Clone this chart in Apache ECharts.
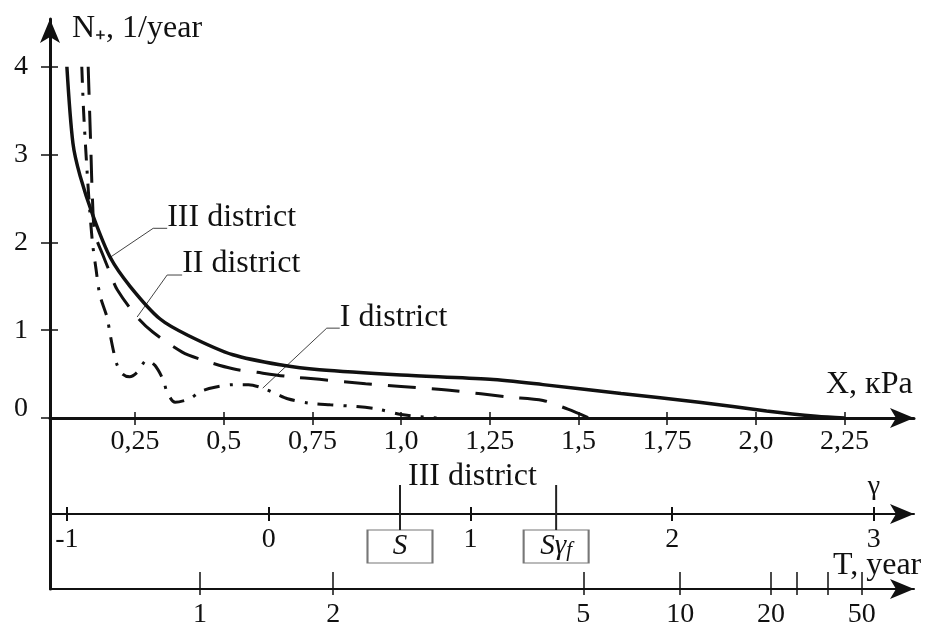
<!DOCTYPE html>
<html>
<head>
<meta charset="utf-8">
<script src="https://cdn.jsdelivr.net/npm/echarts@6/dist/echarts.min.js"></script>
<style>
  html, body { margin: 0; padding: 0; background: #fff; }
  #chart { width: 928px; height: 632px; }
</style>
</head>
<body>
<div id="chart"></div>
<script>
// Exceedance frequency N+ of the snow load X for three districts,
// with the auxiliary gamma scale and the return-period scale below.

// Load axis (X, kPa)
const loadTicks = [0.25, 0.5, 0.75, 1.0, 1.25, 1.5, 1.75, 2.0, 2.25];
const loadTickLabels = ['0,25', '0,5', '0,75', '1,0', '1,25', '1,5', '1,75', '2,0', '2,25'];
// Frequency axis (N+, 1/year)
const freqTicks = [0, 1, 2, 3, 4];
// Gamma scale
const gammaTicks = [-1, 0, 1, 2, 3];
// Return period scale (T, year) and where each period sits on the gamma scale
const periodTicks = [1, 2, 5, 10, 20, 30, 40, 50];
const periodTickLabels = ['1', '2', '5', '10', '20', '', '', '50'];
const periodOnGamma = [-0.34, 0.32, 1.56, 2.04, 2.49, 2.62, 2.77, 2.94];
// Markers on the gamma scale for the III district
const markerNames = ['S', 'Sγf'];
const markerGamma = [0.651, 1.425];

// Curves: [X, N+]
const districtIII = [
  [0.058, 4.0], [0.075, 3.13], [0.095, 2.76], [0.132, 2.3], [0.18, 1.83],
  [0.236, 1.5], [0.32, 1.13], [0.4, 0.94], [0.526, 0.72], [0.667, 0.6],
  [0.77, 0.55], [1.0, 0.49], [1.25, 0.44], [1.4, 0.38], [1.62, 0.28],
  [1.84, 0.18], [2.03, 0.08], [2.17, 0.02], [2.25, 0.0]
];
const districtII = [
  [0.118, 4.0], [0.122, 3.5], [0.126, 3.0], [0.13, 2.5], [0.137, 2.1],
  [0.16, 1.85], [0.18, 1.65], [0.2, 1.46], [0.256, 1.15], [0.3, 0.98],
  [0.383, 0.75], [0.433, 0.67], [0.526, 0.56], [0.594, 0.52], [0.687, 0.47],
  [0.77, 0.44], [0.9, 0.39], [1.0, 0.36], [1.15, 0.31], [1.3, 0.24],
  [1.4, 0.2], [1.47, 0.1], [1.53, 0.0]
];
const districtI = [
  [0.1, 4.0], [0.105, 3.5], [0.112, 3.0], [0.12, 2.5], [0.13, 2.0],
  [0.14, 1.7], [0.151, 1.4], [0.171, 1.15], [0.18, 0.95], [0.19, 0.75],
  [0.2, 0.6], [0.215, 0.5], [0.235, 0.47], [0.256, 0.52], [0.284, 0.66],
  [0.306, 0.6], [0.33, 0.43], [0.34, 0.3], [0.363, 0.18], [0.405, 0.22],
  [0.433, 0.3], [0.475, 0.35], [0.53, 0.38], [0.57, 0.38], [0.61, 0.34],
  [0.65, 0.27], [0.68, 0.22], [0.74, 0.17], [0.8, 0.15], [0.875, 0.13],
  [0.935, 0.1], [1.0, 0.04], [1.1, 0.0]
];

const SERIF = 'Liberation Serif';
const INK = '#111';
const GRID_LEFT = 50, GRID_WIDTH = 864;
const WORD_SIZE = 32, TICK_SIZE = 28;

const arrowLine = (w) => ({
  show: true, onZero: false,
  lineStyle: { color: INK, width: w },
  symbol: ['none', 'arrow'], symbolSize: [15, 24]
});
const noLine = { show: false, onZero: false };
const noSplit = { show: false };
const tickFont = { fontFamily: SERIF, fontSize: TICK_SIZE, color: INK };

const option = {
  backgroundColor: '#fff',
  animation: false,
  grid: [
    { left: GRID_LEFT, width: GRID_WIDTH, top: 19, height: 399 },   // main plot
    { left: GRID_LEFT, width: GRID_WIDTH, top: 418, height: 96 },   // gamma scale
    { left: GRID_LEFT, width: GRID_WIDTH, top: 418, height: 171 }   // return period scale
  ],
  xAxis: [
    { // X, kPa
      type: 'value', gridIndex: 0, position: 'bottom', min: 0.0104, max: 2.4456,
      axisLine: arrowLine(3), splitLine: noSplit,
      axisTick: { show: true, inside: false, length: 7, customValues: loadTicks, lineStyle: { color: INK, width: 1.5 } },
      axisLabel: Object.assign({ customValues: loadTicks, margin: 10,
        formatter: (v) => loadTickLabels[loadTicks.indexOf(v)] }, tickFont)
    },
    { // inner half of the load ticks
      type: 'value', gridIndex: 0, position: 'bottom', min: 0.0104, max: 2.4456,
      axisLine: noLine, splitLine: noSplit, axisLabel: { show: false },
      axisTick: { show: true, inside: true, length: 6, customValues: loadTicks, lineStyle: { color: INK, width: 1.5 } }
    },
    { // gamma
      type: 'value', gridIndex: 1, position: 'bottom', min: -1.084, max: 3.199,
      axisLine: arrowLine(2), splitLine: noSplit,
      axisTick: { show: true, inside: false, length: 7, customValues: gammaTicks, lineStyle: { color: INK, width: 2 } },
      axisLabel: Object.assign({ customValues: gammaTicks, margin: 12,
        formatter: (v) => String(v) }, tickFont)
    },
    {
      type: 'value', gridIndex: 1, position: 'bottom', min: -1.084, max: 3.199,
      axisLine: noLine, splitLine: noSplit, axisLabel: { show: false },
      axisTick: { show: true, inside: true, length: 7, customValues: gammaTicks, lineStyle: { color: INK, width: 2 } }
    },
    { // T, year
      type: 'value', gridIndex: 2, position: 'bottom', min: -1.084, max: 3.199,
      axisLine: arrowLine(2), splitLine: noSplit,
      axisTick: { show: true, inside: true, length: 17, customValues: periodOnGamma, lineStyle: { color: INK, width: 1.5 } },
      axisLabel: Object.assign({ customValues: periodOnGamma, margin: 12,
        formatter: (v) => periodTickLabels[periodOnGamma.indexOf(v)] }, tickFont)
    },
    {
      type: 'value', gridIndex: 2, position: 'bottom', min: -1.084, max: 3.199,
      axisLine: noLine, splitLine: noSplit, axisLabel: { show: false },
      axisTick: { show: true, inside: false, length: 6, customValues: periodOnGamma, lineStyle: { color: INK, width: 1.5 } }
    }
  ],
  yAxis: [
    { // N+, 1/year
      type: 'value', gridIndex: 0, position: 'left', min: 0, max: 4.544,
      axisLine: arrowLine(3), splitLine: noSplit,
      axisTick: { show: true, inside: false, length: 9, customValues: freqTicks, lineStyle: { color: INK, width: 1.5 } },
      axisLabel: Object.assign({ customValues: freqTicks, margin: 22,
        formatter: (v) => (v === 0 ? '{z|0}' : String(v)),
        rich: { z: { fontFamily: SERIF, fontSize: TICK_SIZE, color: INK, padding: [0, 0, 18, 0] } } }, tickFont)
    },
    {
      type: 'value', gridIndex: 0, position: 'left', min: 0, max: 4.544,
      axisLine: noLine, splitLine: noSplit, axisLabel: { show: false },
      axisTick: { show: true, inside: true, length: 8, customValues: freqTicks, lineStyle: { color: INK, width: 1.5 } }
    },
    { type: 'value', gridIndex: 1, position: 'left', min: 0, max: 1, show: false },
    { // left border continuing down to the period scale
      type: 'value', gridIndex: 2, position: 'left', min: 0, max: 1,
      axisLine: { show: true, onZero: false, lineStyle: { color: INK, width: 3 } },
      axisTick: { show: false }, axisLabel: { show: false }, splitLine: noSplit
    }
  ],
  series: [
    {
      name: 'III district', type: 'line', xAxisIndex: 0, yAxisIndex: 0,
      data: districtIII, smooth: 0.3, symbol: 'none',
      lineStyle: { color: INK, width: 3.5 }
    },
    {
      name: 'II district', type: 'line', xAxisIndex: 0, yAxisIndex: 0,
      data: districtII, smooth: 0.3, symbol: 'none',
      lineStyle: { color: INK, width: 3, type: [28, 16] }
    },
    {
      name: 'I district', type: 'line', xAxisIndex: 0, yAxisIndex: 0,
      data: districtI, smooth: 0.3, symbol: 'none',
      lineStyle: { color: INK, width: 3, type: [16, 10, 3, 10] }
    }
  ]
};

// Markers on the gamma scale: a stem through the axis and a framed label under it
markerNames.forEach((name, i) => {
  const g = markerGamma[i];
  option.series.push({
    type: 'line', xAxisIndex: 2, yAxisIndex: 2, clip: false, silent: true,
    data: [[g, 0.302], [g, -0.167]], symbol: 'none',
    lineStyle: { color: '#222', width: 2 }
  });
  option.series.push({
    type: 'scatter', xAxisIndex: 2, yAxisIndex: 2, clip: false, silent: true,
    data: [{ value: [g, -0.339], name }],
    symbol: 'rect', symbolSize: [65, 33],
    itemStyle: { color: '#fff', borderColor: '#777', borderWidth: 1.5, opacity: 1 },
    label: {
      show: true, position: 'inside',
      formatter: name === 'Sγf' ? '{m|Sγ}{s|f}' : '{m|S}',
      rich: {
        m: { fontFamily: SERIF, fontStyle: 'italic', fontSize: 29, color: INK },
        s: { fontFamily: SERIF, fontStyle: 'italic', fontSize: 21, color: INK, padding: [8, 0, 0, 0] }
      }
    }
  });
});
option.series.push({
  type: 'scatter', xAxisIndex: 2, yAxisIndex: 2, silent: true,
  data: [{ value: [markerGamma[0], 0.385], name: 'III district' }],
  symbolSize: 0, itemStyle: { opacity: 1 },
  label: { show: true, position: 'right', distance: 8, formatter: '{b}',
    fontFamily: SERIF, fontSize: WORD_SIZE, color: INK }
});
option.series.push({
  type: 'scatter', xAxisIndex: 2, yAxisIndex: 2, silent: true,
  data: [{ value: [3, 0.29], name: 'γ' }],
  symbolSize: 0, itemStyle: { opacity: 1 },
  label: { show: true, position: 'inside', formatter: '{b}',
    fontFamily: SERIF, fontSize: TICK_SIZE, color: INK }
});

const chart = echarts.init(document.getElementById('chart'));
chart.setOption(option);

// Leader lines from each curve to its district label
const toPx = (p) => chart.convertToPixel({ xAxisIndex: 0, yAxisIndex: 0 }, p);
const leaders = [
  { pt: districtIII[4], dx: 43, dy: -29, run: 14, text: 'III district' },
  { pt: districtII[8], dx: 30, dy: -42, run: 15, text: 'II district' },
  { pt: districtI[24], dx: 64, dy: -60, run: 13, text: 'I district' }
];
const graphics = [];
leaders.forEach((l) => {
  const a = toPx(l.pt);
  const e = [a[0] + l.dx, a[1] + l.dy];
  graphics.push({
    type: 'polyline', silent: true,
    shape: { points: [a, e, [e[0] + l.run, e[1]]] },
    style: { stroke: '#444', lineWidth: 1, fill: null }
  });
  graphics.push({
    type: 'text', silent: true, x: e[0] + l.run, y: e[1] - 11,
    style: { text: l.text, fontFamily: SERIF, fontSize: WORD_SIZE, fill: INK,
      align: 'left', verticalAlign: 'middle' }
  });
});
// Axis titles
const title = (text, x, y) => ({
  type: 'text', silent: true, x, y,
  style: { text, fontFamily: SERIF, fontSize: WORD_SIZE, fill: INK, align: 'left', verticalAlign: 'middle' }
});
graphics.push(title('N₊, 1/year', 72, 29));
graphics.push(title('X, кPa', 826, 385));
graphics.push(title('T, year', 833, 566));
chart.setOption({ graphic: graphics });
</script>
</body>
</html>
